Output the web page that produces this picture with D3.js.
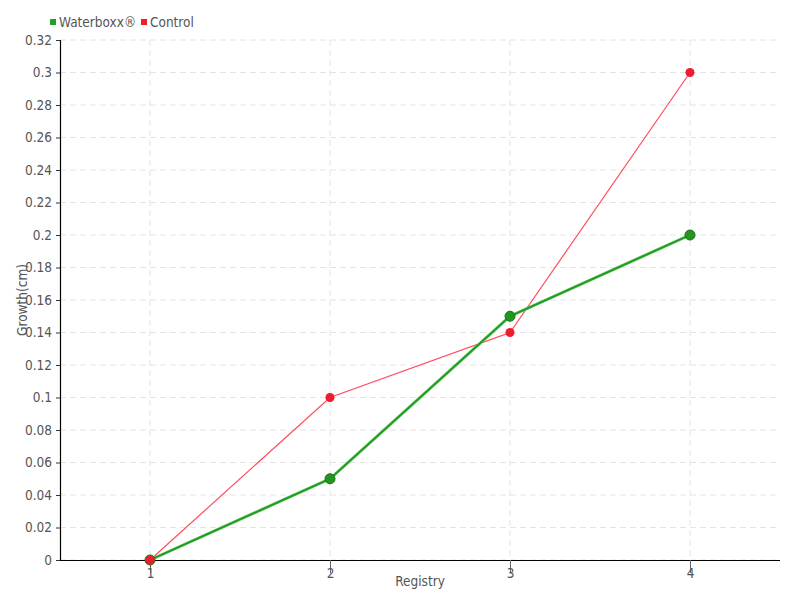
<!DOCTYPE html>
<html><head><meta charset="utf-8">
<script src="https://cdn.jsdelivr.net/npm/d3@7"></script>
<style>body{margin:0;background:#fff}text{font-family:"DejaVu Sans Condensed","DejaVu Sans",sans-serif;fill:#555}</style>
</head><body><svg id="c" width="800" height="600"></svg>
<script>
const categories = ["1","2","3","4"];
const waterboxx = [0, 0.05, 0.15, 0.2];
const control = [0, 0.1, 0.14, 0.3];
const yTicks = [0,0.02,0.04,0.06,0.08,0.1,0.12,0.14,0.16,0.18,0.2,0.22,0.24,0.26,0.28,0.3,0.32];
const seriesNames = ["Waterboxx®","Control"];

const svg = d3.select("#c");
const m = {l:60, r:20, t:40, b:40};
const W = 800, H = 600;
const x = d3.scalePoint().domain(categories).range([m.l, W-m.r]).padding(0.5);
const y = d3.scaleLinear().domain([0,0.32]).range([H-m.b, m.t]);

// grid
const g = svg.append("g");
g.selectAll(".hg").data(yTicks).join("line")
  .attr("x1", m.l).attr("x2", W-m.r).attr("y1", d=>y(d)).attr("y2", d=>y(d))
  .attr("stroke","#e4e4e4").attr("stroke-dasharray","6,4");
g.selectAll(".vg").data(categories).join("line")
  .attr("x1", d=>x(d)).attr("x2", d=>x(d)).attr("y1", m.t).attr("y2", H-m.b)
  .attr("stroke","#e4e4e4").attr("stroke-dasharray","6,4");

// y axis
const ya = svg.append("g").attr("transform",`translate(${m.l},0)`)
  .call(d3.axisLeft(y).tickValues(yTicks).tickSize(4).tickPadding(4).tickFormat(d=>d3.format("~g")(d)));
ya.select(".domain").attr("stroke","#000").attr("stroke-width",1.2);
ya.selectAll(".tick line").attr("stroke","#333");
ya.selectAll("text").attr("font-size",13.5).style("fill","#555");

// x axis
const xa = svg.append("g").attr("transform",`translate(0,${H-m.b})`)
  .call(d3.axisBottom(x).tickSize(13).tickPadding(-5).tickSizeOuter(0));
xa.select(".domain").attr("stroke","#000").attr("stroke-width",1.2).attr("d",`M${m.l},0.5H${W-m.r}`);
xa.selectAll(".tick line").attr("stroke","#666");
xa.selectAll("text").attr("font-size",13.5).style("fill","#555");

svg.append("text").attr("x",(m.l+W-m.r)/2).attr("y",586).attr("text-anchor","middle").attr("font-size",13.5).text("Registry");
svg.append("text").attr("transform","translate(27,300) rotate(-90)").attr("text-anchor","middle").attr("font-size",13.5).text("Growth(cm)");

const line = d3.line().x((d,i)=>x(categories[i])).y(d=>y(d));
// control
svg.append("path").datum(control).attr("d",line).attr("fill","none").attr("stroke","#ff4d5e").attr("stroke-width",1.2);
// waterboxx
svg.append("path").datum(waterboxx).attr("d",line).attr("fill","none").attr("stroke","#5cc25c").attr("stroke-width",3);
svg.append("path").datum(waterboxx).attr("d",line).attr("fill","none").attr("stroke","#1f9a1f").attr("stroke-width",1.6);
svg.selectAll(".wp").data(waterboxx).join("circle")
  .attr("cx",(d,i)=>x(categories[i])).attr("cy",d=>y(d)).attr("r",5)
  .attr("fill","#22961f").attr("stroke","#1d6e1d").attr("stroke-width",1);
svg.selectAll(".cp").data(control).join("circle")
  .attr("cx",(d,i)=>x(categories[i])).attr("cy",d=>y(d)).attr("r",4.5)
  .attr("fill","#ee1c2c");

// legend
const colors = ["#22a01f","#ee1c2c"];
const lx = [50, 141];
seriesNames.forEach((n,i)=>{
  svg.append("rect").attr("x",lx[i]).attr("y",19).attr("width",6).attr("height",6).attr("fill",colors[i]);
  svg.append("text").attr("x",lx[i]+9).attr("y",27).attr("font-size",13.5).text(n);
});
</script></body></html>
